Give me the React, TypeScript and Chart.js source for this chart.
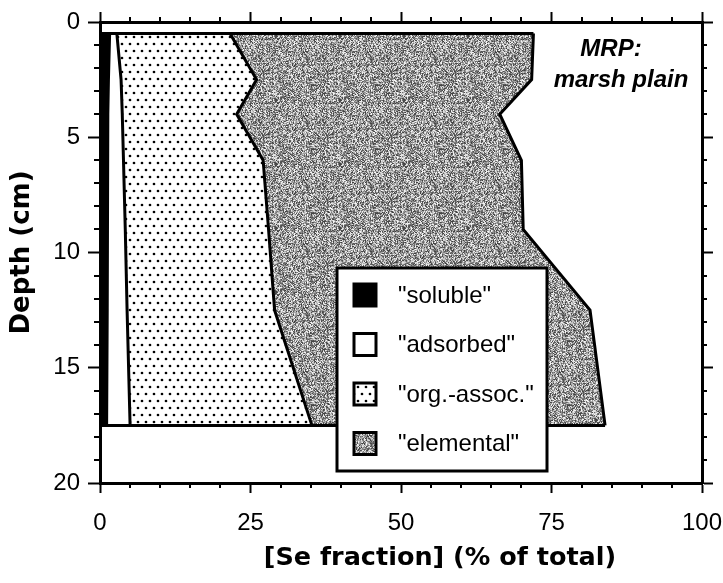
import React, { useEffect, useRef } from 'react';
import { Chart, registerables } from 'chart.js';

Chart.register(...registerables);

// ---- data ----
const depths = [0.5, 2.5, 4, 6, 9, 12.5, 17.5];
const soluble = [1.6, 1.4, 1.3, 1.2, 1.2, 1.2, 1.1];
const adsorbed = [1.2, 2.1, 2.4, 2.7, 3.0, 3.3, 3.9];
const orgAssoc = [18.8, 22.5, 19.0, 23.2, 23.8, 24.5, 30.2];
const elemental = [50.4, 45.7, 43.7, 42.9, 42.3, 52.4, 48.7];
const seriesLabels = ['"soluble"', '"adsorbed"', '"org.-assoc."', '"elemental"'];
const xTickLabels = [0, 25, 50, 75, 100];
const yTickLabels = [0, 5, 10, 15, 20];
const xMinorStep = 5;
const yMinorStep = 1;
const annotationLines = ['MRP:', 'marsh plain'];
const xTitle = '[Se fraction] (% of total)';
const yTitle = 'Depth (cm)';

function makeDotPattern(ctx: CanvasRenderingContext2D) {
  const c = document.createElement('canvas');
  c.width = 8;
  c.height = 14;
  const g = c.getContext('2d')!;
  g.fillStyle = '#ffffff';
  g.fillRect(0, 0, 8, 14);
  g.fillStyle = '#000000';
  for (const [x, y] of [[2, 2], [6, 9]]) {
    g.beginPath();
    g.arc(x, y, 1.35, 0, Math.PI * 2);
    g.fill();
  }
  return ctx.createPattern(c, 'repeat')!;
}

function makeGrainPattern(ctx: CanvasRenderingContext2D) {
  const n = 64;
  const c = document.createElement('canvas');
  c.width = n;
  c.height = n;
  const g = c.getContext('2d')!;
  const img = g.createImageData(n, n);
  let s = 987654321;
  for (let i = 0; i < n * n; i++) {
    s = (Math.imul(s, 1103515245) + 12345) >>> 0;
    const r = s / 4294967296;
    const v = Math.round(60 + r * 190);
    img.data[i * 4] = v;
    img.data[i * 4 + 1] = v;
    img.data[i * 4 + 2] = v;
    img.data[i * 4 + 3] = 255;
  }
  g.putImageData(img, 0, 0);
  return ctx.createPattern(c, 'repeat')!;
}

const decorPlugin = {
  id: 'decor',
  afterDraw(chart: any) {
    const ctx: CanvasRenderingContext2D = chart.ctx;
    const ca = chart.chartArea;
    ctx.save();

    // minor ticks
    ctx.strokeStyle = '#000';
    ctx.lineWidth = 2;
    const cfgs = [
      { id: 'x', major: xTickLabels, len: 5 },
      { id: 'x2', major: xTickLabels, len: 5 },
      { id: 'y', major: yTickLabels, len: 6 },
      { id: 'y2', major: yTickLabels, len: 5 },
    ];
    for (const c of cfgs) {
      const sc = chart.scales[c.id];
      if (!sc) continue;
      for (const t of sc.ticks) {
        if (c.major.includes(t.value)) continue;
        const p = Math.round(sc.getPixelForValue(t.value));
        ctx.beginPath();
        if (c.id === 'x') { ctx.moveTo(p, sc.top); ctx.lineTo(p, sc.top + c.len); }
        else if (c.id === 'x2') { ctx.moveTo(p, sc.bottom); ctx.lineTo(p, sc.bottom - c.len); }
        else if (c.id === 'y') { ctx.moveTo(sc.right, p); ctx.lineTo(sc.right - c.len, p); }
        else { ctx.moveTo(sc.left, p); ctx.lineTo(sc.left + c.len, p); }
        ctx.stroke();
      }
    }

    // legend box
    const bx = ca.left + 237;
    const by = ca.top + 246;
    const bw = 210;
    const bh = 203;
    ctx.fillStyle = '#fff';
    ctx.fillRect(bx, by, bw, bh);
    ctx.lineWidth = 3;
    ctx.strokeStyle = '#000';
    ctx.strokeRect(bx, by, bw, bh);
    ctx.font = '24px "Liberation Sans"';
    ctx.textBaseline = 'middle';
    ctx.textAlign = 'left';
    for (let k = 0; k < 4; k++) {
      const ds = chart.data.datasets[k];
      const cy = by + 27 + k * 49.5;
      ctx.fillStyle = ds.backgroundColor;
      ctx.fillRect(bx + 17, cy - 11, 22, 22);
      ctx.lineWidth = 3;
      ctx.strokeRect(bx + 17, cy - 11, 22, 22);
      ctx.fillStyle = '#000';
      ctx.fillText(ds.label, bx + 61, cy + 1);
    }

    // annotation
    ctx.font = 'italic bold 24px "Liberation Sans"';
    ctx.textAlign = 'center';
    ctx.textBaseline = 'alphabetic';
    ctx.fillStyle = '#000';
    ctx.fillText(annotationLines[0], ca.right - 91, ca.top + 34);
    ctx.fillText(annotationLines[1], ca.right - 81, ca.top + 65);

    // x axis title
    ctx.font = 'bold 25.5px "DejaVu Sans"';
    ctx.fillText(xTitle, (ca.left + ca.right) / 2 + 39, chart.height - 18);
    ctx.restore();
  },
};

export default function App() {
  const ref = useRef<HTMLCanvasElement>(null);

  useEffect(() => {
    const canvas = ref.current!;
    const ctx = canvas.getContext('2d')!;
    Chart.defaults.font.family = '"Liberation Sans"';
    Chart.defaults.color = '#000';

    const fills: any[] = ['#000000', '#ffffff', makeDotPattern(ctx), makeGrainPattern(ctx)];
    const series = [soluble, adsorbed, orgAssoc, elemental];
    const cum: number[][] = [];
    let running = depths.map(() => 0);
    series.forEach((s) => {
      running = running.map((v, i) => +(v + s[i]).toFixed(2));
      cum.push(running);
    });
    const n = depths.length;
    const outer = cum[cum.length - 1];

    const datasets: any[] = cum.map((vals, k) => ({
      label: seriesLabels[k],
      data: vals.map((v, i) => ({ x: v, y: depths[i] })),
      borderColor: '#000',
      borderWidth: 3,
      borderJoinStyle: 'miter',
      pointRadius: 0,
      tension: 0,
      fill: k === 0 ? 'origin' : '-1',
      backgroundColor: fills[k],
    }));
    datasets.push({
      label: 'top edge',
      data: [{ x: 0, y: depths[0] }, { x: outer[0], y: depths[0] }],
      borderColor: '#000', borderWidth: 3, pointRadius: 0, fill: false, order: -1,
    });
    datasets.push({
      label: 'bottom edge',
      data: [{ x: 0, y: depths[n - 1] }, { x: outer[n - 1], y: depths[n - 1] }],
      borderColor: '#000', borderWidth: 3, pointRadius: 0, fill: false, order: -1,
    });

    const tickColor = (majors: number[]) => (c: any) =>
      c.tick && majors.includes(c.tick.value) ? '#000' : 'rgba(0,0,0,0)';

    const fixH = (h: number) => (s: any) => { s.height = h; s.paddingLeft = 0; s.paddingRight = 0; };
    const fixW = (w: number) => (s: any) => { s.width = w; s.paddingTop = 0; s.paddingBottom = 0; };

    const chart = new Chart(ctx, {
      type: 'line',
      data: { datasets },
      plugins: [decorPlugin],
      options: {
        animation: false,
        responsive: false,
        indexAxis: 'y',
        events: [],
        layout: { padding: 0 },
        plugins: { legend: { display: false }, tooltip: { enabled: false } },
        scales: {
          x: {
            type: 'linear', position: 'bottom', min: 0, max: 100,
            grid: { drawOnChartArea: false, tickLength: 10, tickWidth: 2, tickColor: tickColor(xTickLabels) },
            border: { color: '#000', width: 3 },
            ticks: {
              stepSize: xMinorStep, autoSkip: false, maxRotation: 0, padding: 16,
              font: { size: 24 }, color: '#000',
              callback: (v: any) => (xTickLabels.includes(v) ? String(v) : ''),
            },
            afterFit: fixH(100),
          },
          x2: {
            type: 'linear', position: 'top', min: 0, max: 100,
            grid: { drawOnChartArea: false, tickLength: 10, tickWidth: 2, tickColor: tickColor(xTickLabels) },
            border: { color: '#000', width: 3 },
            ticks: { stepSize: xMinorStep, display: false, autoSkip: false },
            afterFit: fixH(22),
          },
          y: {
            type: 'linear', position: 'left', reverse: true, min: 0, max: 20,
            grid: { drawOnChartArea: false, tickLength: 12, tickWidth: 2, tickColor: tickColor(yTickLabels) },
            border: { color: '#000', width: 3 },
            ticks: {
              stepSize: yMinorStep, autoSkip: false, padding: 8,
              font: { size: 24 }, color: '#000',
              callback: (v: any) => (yTickLabels.includes(v) ? String(v) : ''),
            },
            title: {
              display: true, text: yTitle, color: '#000',
              font: { family: '"DejaVu Sans"', size: 26, weight: 'bold' },
              padding: { top: 7, bottom: 0 },
            },
            afterFit: fixW(100),
          },
          y2: {
            type: 'linear', position: 'right', reverse: true, min: 0, max: 20,
            grid: { drawOnChartArea: false, tickLength: 11, tickWidth: 2, tickColor: tickColor(yTickLabels) },
            border: { color: '#000', width: 3 },
            ticks: { stepSize: yMinorStep, display: false, autoSkip: false },
            afterFit: fixW(21),
          },
        },
      } as any,
    });
    return () => chart.destroy();
  }, []);

  return (
    <div style={{ position: 'absolute', left: 0, top: 0, width: 723, height: 583, background: '#fff' }}>
      <canvas ref={ref} width={723} height={583} style={{ display: 'block', width: 723, height: 583 }} />
    </div>
  );
}
